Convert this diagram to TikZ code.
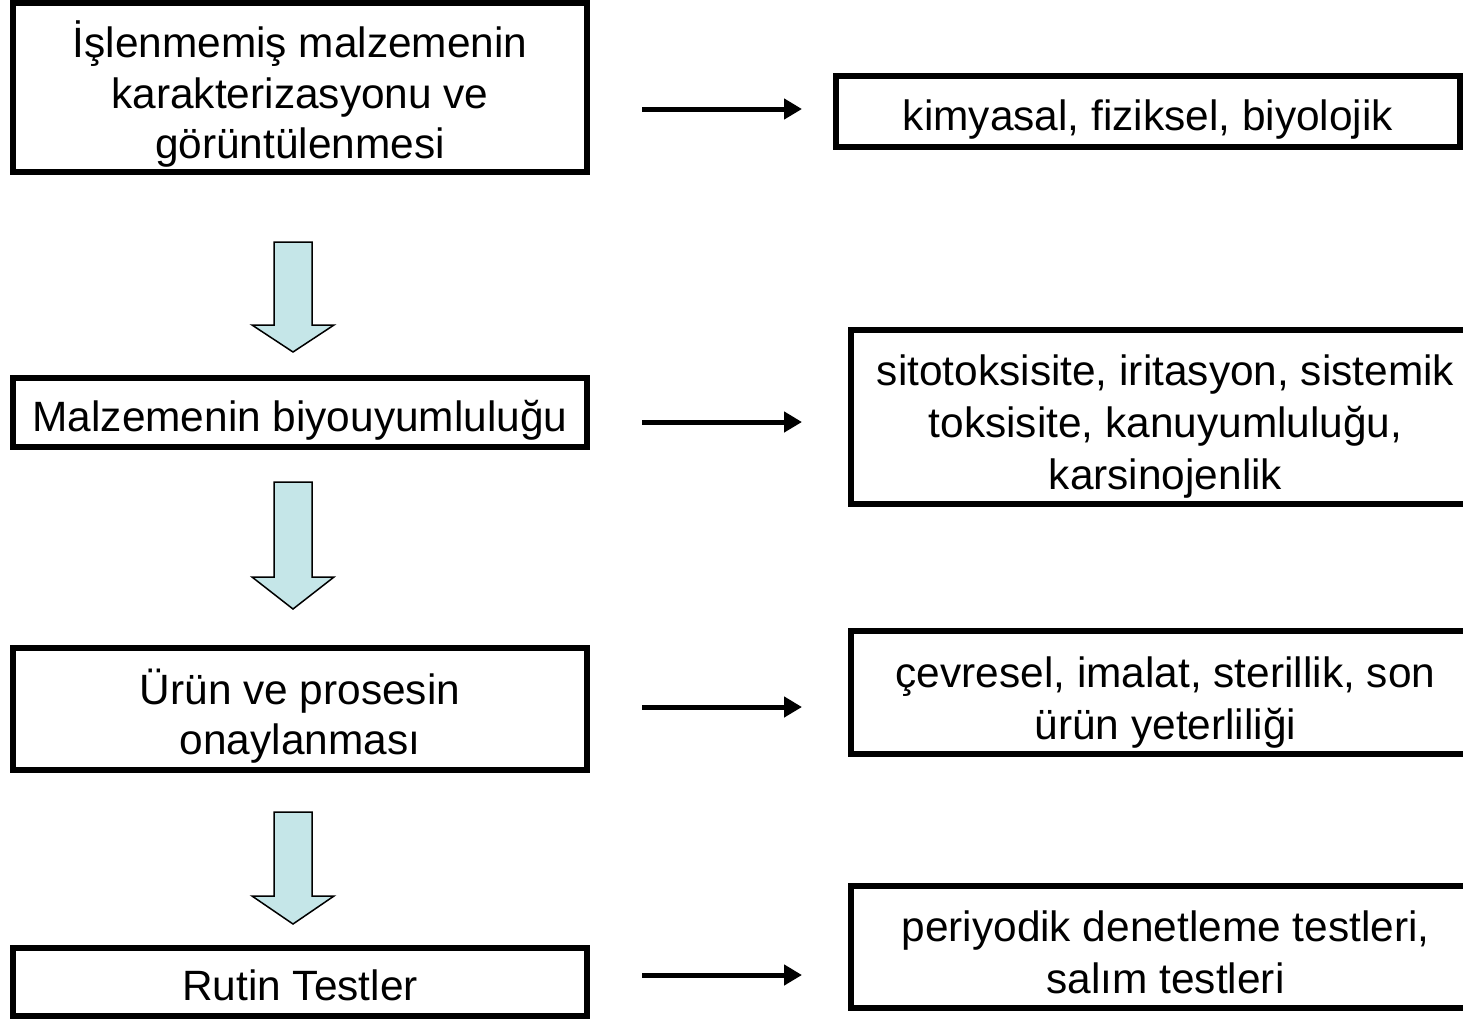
\documentclass[tikz,border=0pt]{standalone}
\usepackage{fontspec}
\setmainfont{Liberation Sans}
\usepackage{tikz}
\usetikzlibrary{positioning,arrows.meta}

\definecolor{paleblue}{RGB}{197,230,232}
\newcommand{\firstline}{\rule{0pt}{25pt}}

\begin{document}
\begin{tikzpicture}[x=0.5pt,y=-0.5pt,
        stepbox/.style={draw=black, line width=3pt, fill=white, align=center, inner sep=0pt,
                        font=\fontsize{21.2}{25.4}\selectfont,
                        execute at begin node={\rule{0pt}{23pt}},
                        execute at end node={\rule[-4.5pt]{0pt}{0pt}}},
        leftbox/.style={stepbox, minimum width=287pt},
        rightbox/.style={stepbox, minimum width=314.5pt, font=\fontsize{21.2}{26}\selectfont},
        downarrow/.style={draw=black, line width=0.75pt, fill=paleblue},
        sidearrow/.style={line width=2.5pt, -{Triangle[length=9pt,width=10pt]}}
    ]
    \useasboundingbox (0,0) rectangle (1463,1019);

    % Left column
    \node[leftbox, minimum height=84.5pt] (b1) at (300,87.5) {\firstline İşlenmemiş malzemenin\\karakterizasyonu ve\\görüntülenmesi};
    \node[leftbox, minimum height=34.5pt] (b2) at (300,412.5) {Malzemenin biyouyumluluğu};
    \node[leftbox, minimum height=61pt] (b3) at (300,709) {\firstline Ürün ve prosesin\\onaylanması};
    \node[leftbox, minimum height=34pt] (b4) at (300,982) {Rutin Testler};

    % Right column
    \node[stepbox, minimum width=312pt, minimum height=35.5pt] (r1) at (1148,111.5) {kimyasal, fiziksel, biyolojik};
    \node[rightbox, minimum height=87pt] (r2) at (1165.5,417) {\firstline sitotoksisite, iritasyon, sistemik\\toksisite, kanuyumluluğu,\\karsinojenlik};
    \node[rightbox, minimum height=61.5pt] (r3) at (1165.5,692.5) {\firstline çevresel, imalat, sterillik, son\\ürün yeterliliği};
    \node[rightbox, minimum height=61pt] (r4) at (1165.5,947) {\firstline periyodik denetleme testleri,\\salım testleri};

    % Block arrows
    \foreach \top/\neck/\tip in {242/325/352, 482/577/609, 812/896/924} {
        \draw[downarrow] (274,\top) -- (312,\top) -- (312,\neck) -- (334,\neck)
            -- (293,\tip) -- (252,\neck) -- (274,\neck) -- cycle;
    }

    % Side arrows
    \foreach \y [count=\i] in {109,422,707,975} {
        \coordinate (s\i) at (642,\y);
        \coordinate (t\i) at (802,\y);
        \draw[sidearrow] (s\i) -- (t\i);
    }
\end{tikzpicture}
\end{document}
